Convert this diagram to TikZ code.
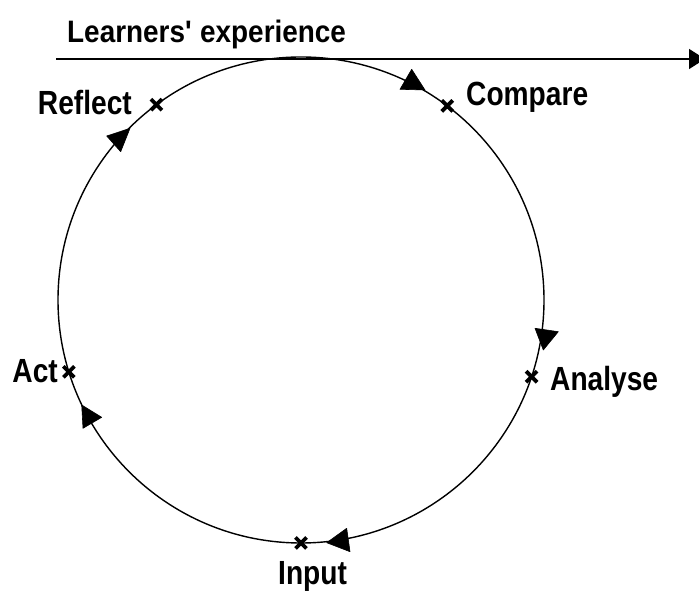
\documentclass[tikz,border=0pt]{standalone}
\usepackage{fontspec}
\newfontfamily\lblfont{Liberation Sans}[FakeStretch=0.84]
\newfontfamily\ttlfont{Liberation Sans}[FakeStretch=0.9]
\usetikzlibrary{arrows.meta}
\begin{document}
\begin{tikzpicture}[x=1pt,y=1pt,
  lbl/.style={font=\lblfont\bfseries\fontsize{33.5}{33.5}\selectfont, inner sep=0pt},
  ttl/.style={font=\ttlfont\bfseries\fontsize{31}{31}\selectfont, inner sep=0pt},
  cyc/.style={line width=1.4pt},
  headfill/.style={fill=black, draw=black, line width=0.6pt, line join=round},
  xm/.pic={\draw[line width=3.8pt] (-5.5,-5.5)--(5.5,5.5) (-5.5,5.5)--(5.5,-5.5);}]
\useasboundingbox (0,0) rectangle (699,591);
\coordinate (c) at (301,291);
\def\R{243}
\draw[cyc] (c) circle[radius=\R];
% timeline
\coordinate (ls) at (56,532);
\coordinate (le) at (705,532);
\draw[line width=1.4pt,-{Triangle[length=16pt,width=20pt]}] (ls) -- (le);
\node[ttl,anchor=base west] (lx) at (67,548) {Learners\textquotesingle\ experience};
% stage points
\coordinate (pr) at ([shift={(126.5:\R)}]c);
\coordinate (pc) at ([shift={(53:\R)}]c);
\coordinate (pa) at ([shift={(-18.4:\R)}]c);
\coordinate (pi) at ([shift={(-90:\R)}]c);
\coordinate (pt) at ([shift={(197.2:\R)}]c);
\foreach \p in {pr,pc,pa,pi,pt} \pic at (\p) {xm};
% labels
\node[lbl,anchor=base east] (nr) at (132,476) {Reflect};
\node[lbl,anchor=base west] (nc) at (466,485) {Compare};
\node[lbl,anchor=base west] (na) at (550,200) {Analyse};
\node[lbl,anchor=base east] (nt) at (58,208) {Act};
\node[lbl,anchor=base west] (ni) at (278,6) {Input};
% direction arrowheads on the cycle
\fill[headfill] (411.7,521.7) -- (400,501.7) -- (425,501) -- cycle;
\fill[headfill] (535,262.7) -- (558.3,259.3) -- (543.3,241) -- cycle;
\fill[headfill] (326.7,48.3) -- (346.7,62.7) -- (350,39.3) -- cycle;
\fill[headfill] (81.7,186) -- (101.7,173.7) -- (83,162.7) -- cycle;
\fill[headfill] (130,462.7) -- (106.7,455) -- (120.7,439.3) -- cycle;
\end{tikzpicture}
\end{document}
